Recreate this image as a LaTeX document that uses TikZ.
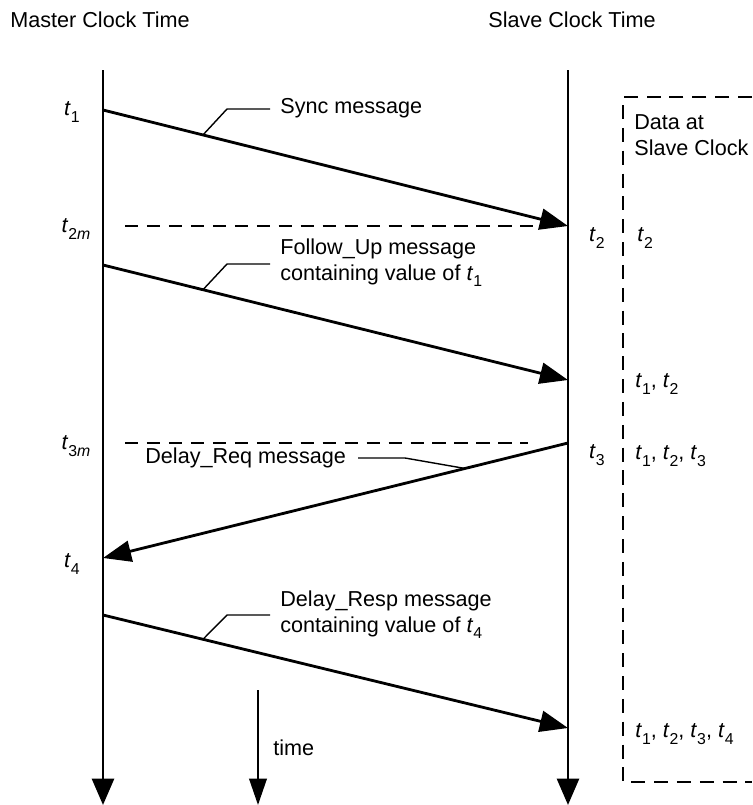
\documentclass[tikz,border=0pt]{standalone}
\usepackage{fontspec}
\setmainfont{Liberation Sans}
\usetikzlibrary{arrows.meta}
\newcommand{\tsub}[1]{\textit{t}\raisebox{-0.55ex}{\small #1}}

\begin{document}
\begin{tikzpicture}[x=0.02cm, y=-0.02cm,
  timeline/.style={line width=1.6pt, -{Triangle[length=15pt, width=12.5pt]}},
  msg/.style={line width=1.6pt, -{Triangle[length=16pt, width=12pt]}},
  leader/.style={line width=0.8pt},
  level/.style={line width=0.9pt, dash pattern=on 7.5pt off 5pt},
  lbl/.style={anchor=west, inner sep=0pt, align=left, font=\fontsize{12.3}{14.7}\selectfont},
  tlbl/.style={inner sep=0pt, font=\fontsize{12.3}{14.7}\selectfont}]
\useasboundingbox (0,0) rectangle (752,805);

% clocks
\node[lbl] (master) at (10,20) {Master Clock Time};
\node[lbl] (slave) at (488,20) {Slave Clock Time};
\coordinate (mtop) at (103,70);
\coordinate (mbot) at (103,805);
\coordinate (slavetop) at (568,70);
\coordinate (slavebot) at (568,805);
\draw[timeline] (mtop) -- (mbot);
\draw[timeline] (slavetop) -- (slavebot);

% message end points
\coordinate (m1) at (103,110);
\coordinate (s2) at (568,226);
\coordinate (mf) at (103,265);
\coordinate (sf) at (568,380);
\coordinate (s3) at (568,443);
\coordinate (m4) at (103,558);
\coordinate (mr) at (103,615);
\coordinate (sr) at (568,728);

\draw[msg] (m1) -- (s2) coordinate[pos=0.215] (syncpt);
\draw[msg] (mf) -- (sf) coordinate[pos=0.215] (followpt);
\draw[msg] (s3) -- (m4) coordinate[pos=0.2215] (reqpt);
\draw[msg] (mr) -- (sr) coordinate[pos=0.215] (resppt);

% dashed levels
\coordinate (l2a) at (125,226);
\coordinate (l2b) at (540,226);
\coordinate (l3a) at (125,443);
\coordinate (l3b) at (528,443);
\draw[level] (l2a) -- (l2b);
\draw[level] (l3a) -- (l3b);

% message labels
\node[lbl] (synclbl) at (280,108) {Sync message};
\node[lbl] (followlbl) at (280,263) {Follow\_Up message\\containing value of \tsub{1}};
\node[lbl] (reqlbl) at (145,458) {Delay\_Req message};
\node[lbl] (resplbl) at (280,615) {Delay\_Resp message\\containing value of \tsub{4}};
\draw[leader] (syncpt) -- (227,109) -- (270,109);
\draw[leader] (followpt) -- (227,264) -- (270,264);
\draw[leader] (358,458) -- (405,458) -- (reqpt);
\draw[leader] (resppt) -- (227,615) -- (270,615);

% time stamps
\node[tlbl] (t1) at (72,112) {\tsub{1}};
\node[tlbl] (t2m) at (76,229) {\tsub{2\textit{m}}};
\node[tlbl] (t3m) at (76,446) {\tsub{3\textit{m}}};
\node[tlbl] (t4) at (72,564) {\tsub{4}};
\node[tlbl] (t2) at (597,238) {\tsub{2}};
\node[tlbl] (t3) at (597,455) {\tsub{3}};

% data at slave clock
\draw[line width=0.9pt, dash pattern=on 8pt off 5pt] (752,97) -- (623,97) -- (623,782) -- (752,782);
\node[lbl] (data) at (634,135) {Data at\\Slave Clock};
\node[lbl] (d2) at (637,238) {\tsub{2}};
\node[lbl] (d12) at (635,384) {\tsub{1}, \tsub{2}};
\node[lbl] (d123) at (635,456) {\tsub{1}, \tsub{2}, \tsub{3}};
\node[lbl] (d1234) at (635,734) {\tsub{1}, \tsub{2}, \tsub{3}, \tsub{4}};

% time arrow
\coordinate (timetop) at (258,690);
\coordinate (timebot) at (258,805);
\draw[line width=1.1pt, -{Triangle[length=15pt, width=10pt]}] (timetop) -- (timebot);
\node[lbl] (time) at (273,748) {time};
\end{tikzpicture}
\end{document}
